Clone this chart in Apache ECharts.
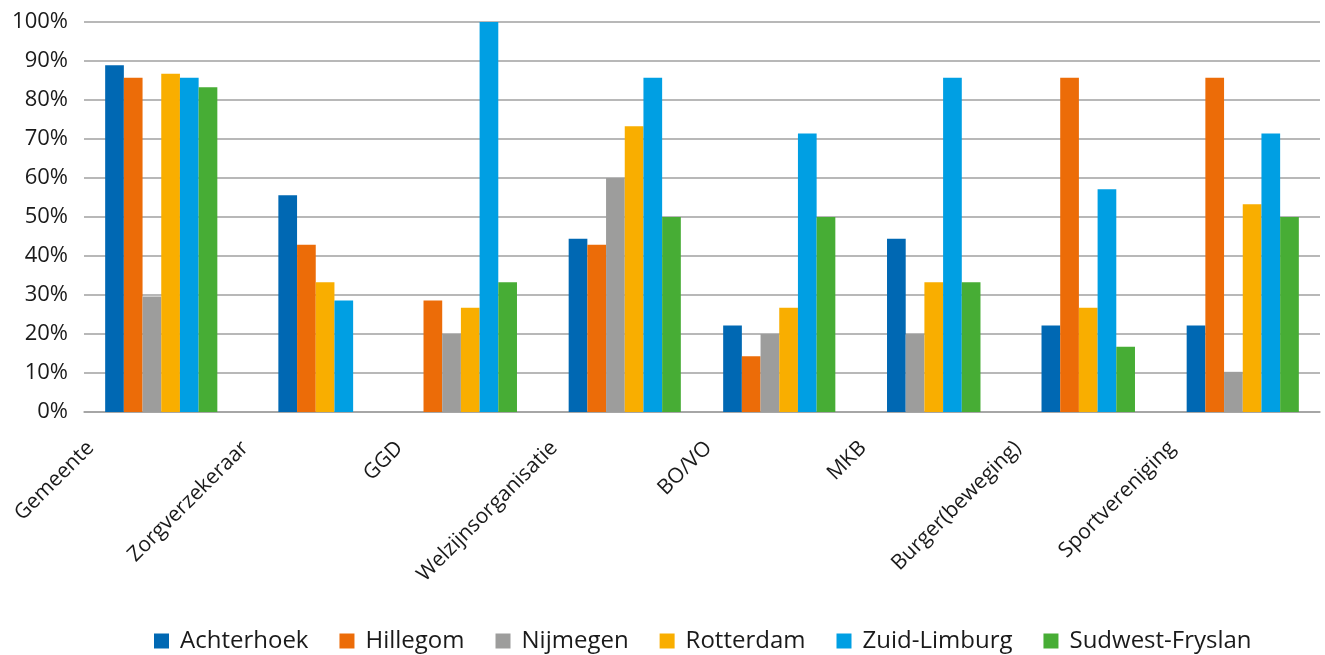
<!DOCTYPE html>
<html>
<head>
<meta charset="utf-8">
<script src="https://cdn.jsdelivr.net/npm/echarts@6/dist/echarts.min.js"></script>
<style>
  html, body { margin: 0; padding: 0; background: #fff; }
  #main { width: 1325px; height: 655px; }
</style>
</head>
<body>
<div id="main"></div>
<script>
const categories = ["Gemeente", "Zorgverzekeraar", "GGD", "Welzijnsorganisatie", "BO/VO", "MKB", "Burger(beweging)", "Sportvereniging"];
const yTicks = [0, 10, 20, 30, 40, 50, 60, 70, 80, 90, 100];

// null = no bar in that group (bars close up, as in the original)
const achterhoek = [88.9, 55.6, null, 44.4, 22.2, 44.4, 22.2, 22.2];
const hillegom = [85.7, 42.9, 28.6, 42.9, 14.3, null, 85.7, 85.7];
const nijmegen = [29.6, null, 20, 60, 20, 20, null, 10.3];
const rotterdam = [86.7, 33.3, 26.7, 73.3, 26.7, 33.3, 26.7, 53.3];
const zuidLimburg = [85.7, 28.6, 100, 85.7, 71.4, 85.7, 57.1, 71.4];
const sudwestFryslan = [83.3, null, 33.3, 50, 50, 33.3, 16.7, 50];

const seriesDefs = [
  { name: "Achterhoek", data: achterhoek, color: "#0068b3" },
  { name: "Hillegom", data: hillegom, color: "#ec6c08" },
  { name: "Nijmegen", data: nijmegen, color: "#9d9d9c" },
  { name: "Rotterdam", data: rotterdam, color: "#f9ae00" },
  { name: "Zuid-Limburg", data: zuidLimburg, color: "#009fe3" },
  { name: "Sudwest-Fryslan", data: sudwestFryslan, color: "#47ad35" },
];

// slot of each bar inside its group, counting only bars that exist
const counts = categories.map((c, ci) => seriesDefs.filter(s => s.data[ci] != null).length);
const slotOf = (si, ci) => seriesDefs.slice(0, si).filter(s => s.data[ci] != null).length;

function renderBar(params, api) {
  const c = api.value(0);
  const v = api.value(1);
  const slot = api.value(2);
  const n = api.value(3);
  const base = api.coord([c, 0]);
  const top = api.coord([c, v]);
  const bw = api.size([1, 0])[0] * 0.121;
  const x = base[0] + (slot - n / 2) * bw;
  return {
    type: "rect",
    shape: { x: x, y: top[1], width: bw, height: base[1] - top[1] },
    style: { fill: api.visual("color") },
  };
}

const myChart = echarts.init(document.getElementById("main"));

const option = {
  animation: false,
  textStyle: { fontFamily: "Open Sans" },
  grid: { left: 84, right: 5, top: 22, bottom: 243 },
  legend: {
    top: 624,
    left: 149,
    icon: "rect",
    itemWidth: 15,
    itemHeight: 15,
    itemGap: 31,
    textStyle: { fontSize: 24, color: "#1a1a1a", fontFamily: "Open Sans", padding: [0, 0, 0, 6] },
    data: seriesDefs.map(s => s.name),
  },
  xAxis: {
    type: "category",
    data: categories,
    axisTick: { show: false },
    axisLine: { lineStyle: { color: "#a0a0a0", width: 1.5 } },
    // labels in the original sit left of their groups; padding pushes them along the slant
    axisLabel: { rotate: 45, fontSize: 21, color: "#1a1a1a", margin: -38, padding: [0, 100, 0, 0], interval: 0 },
  },
  yAxis: {
    type: "value",
    min: yTicks[0],
    max: yTicks[yTicks.length - 1],
    interval: 10,
    axisLine: { show: false },
    axisTick: { show: false },
    splitLine: { lineStyle: { color: "#a0a0a0", width: 1.5 } },
    axisLabel: { formatter: "{value}%", fontSize: 22, color: "#1a1a1a", margin: 16 },
  },
  series: seriesDefs.map((s, si) => ({
    name: s.name,
    type: "custom",
    color: s.color,
    itemStyle: { color: s.color },
    renderItem: renderBar,
    encode: { x: 0, y: 1 },
    data: categories
      .map((c, ci) => (s.data[ci] == null ? null : [ci, s.data[ci], slotOf(si, ci), counts[ci]]))
      .filter(d => d !== null),
  })),
};

myChart.setOption(option);
</script>
</body>
</html>
